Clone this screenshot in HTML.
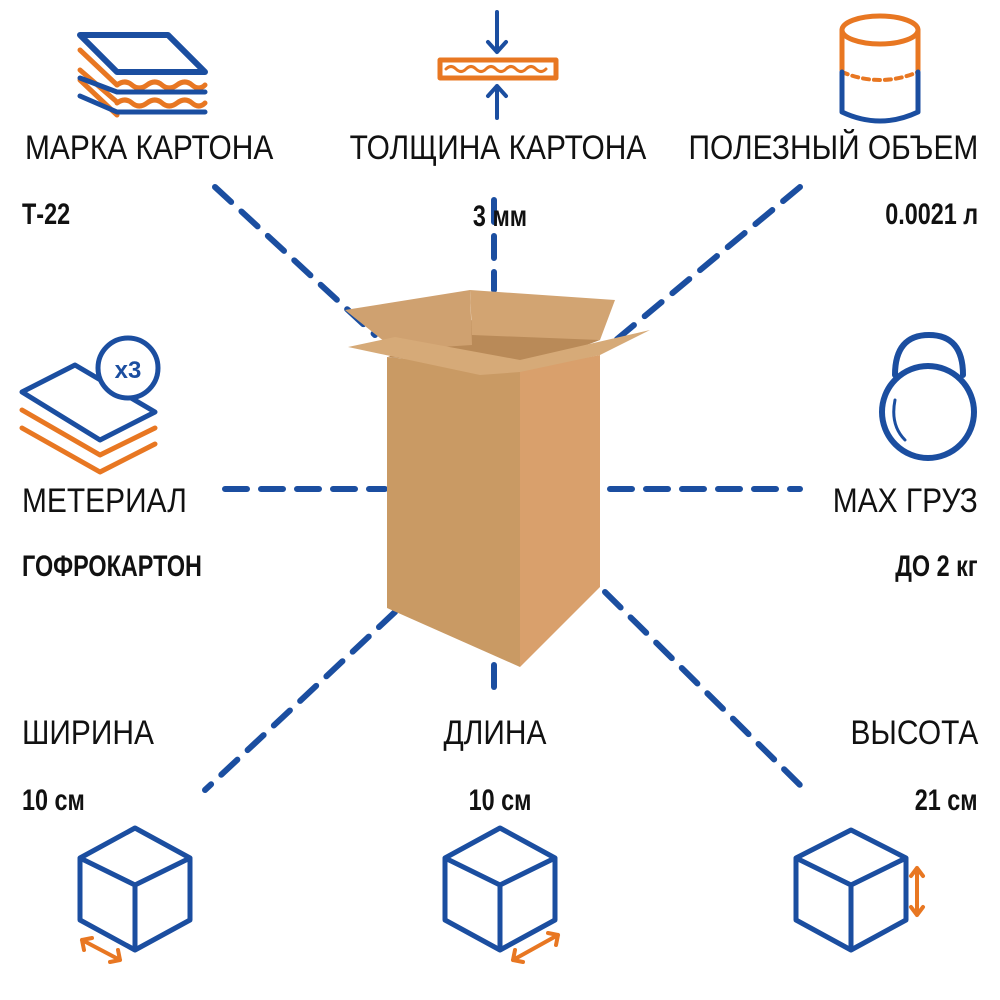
<!DOCTYPE html>
<html><head><meta charset="utf-8"><style>
body{margin:0;width:1000px;height:1000px;background:#fff;position:relative;overflow:hidden;font-family:"Liberation Sans",sans-serif}
.t{position:absolute;font-size:34px;color:#111;white-space:nowrap;transform:scaleX(0.88);transform-origin:left top}
.v{position:absolute;font-size:30px;font-weight:bold;color:#111;white-space:nowrap;transform:scaleX(0.78);transform-origin:left top}
.t.r,.v.r{transform-origin:right top}
.t.c,.v.c{transform-origin:center top}
</style></head><body>
<svg width="1000" height="1000" style="position:absolute;left:0;top:0">
<g stroke="#1b4ea0" stroke-width="6" stroke-dasharray="22 14" stroke-linecap="round" fill="none">
<line x1="215" y1="187" x2="375" y2="335"/>
<line x1="494" y1="200" x2="494" y2="290"/>
<line x1="800" y1="187" x2="610" y2="345"/>
<line x1="225" y1="489" x2="385" y2="489"/>
<line x1="610" y1="489" x2="800" y2="489"/>
<line x1="395" y1="612" x2="205" y2="790"/>
<line x1="494" y1="665" x2="494" y2="700"/>
<line x1="605" y1="592" x2="805" y2="790"/>
</g>
<polygon points="387,357 520,370 520,667 387,608" fill="#c99a64"/>
<polygon points="520,370 600,355 600,587 520,667" fill="#d9a06c"/>
<polygon points="388,357 470,320 600,340 520,370" fill="#b98a58"/>
<polygon points="345,310 470,290 472,345 395,350" fill="#cfa170"/>
<polygon points="470,290 615,300 600,340 472,335" fill="#d2a472"/>
<polygon points="348,347 395,337 520,360 520,372 480,375" fill="#d6aa78"/>
<polygon points="520,360 650,330 600,355 520,372" fill="#d6aa78"/>
<g fill="none" stroke-linecap="round" stroke-linejoin="round">
<polygon points="80,35 168,35 205,72 117,72" stroke="#1b4ea0" stroke-width="6"/>
<path d="M80,50 L117,85 M80,70 L117,102 M80,80 L117,115" stroke="#e87722" stroke-width="5"/>
<path d="M117,85 q8,-6 15,0 t15,0 t15,0 t15,0 t15,0 t13,0" stroke="#e87722" stroke-width="5"/>
<path d="M117,103 q8,-6 15,0 t15,0 t15,0 t15,0 t15,0 t13,0" stroke="#e87722" stroke-width="5"/>
<path d="M80,78 L117,92 L205,92 M80,96 L117,112 L205,112" stroke="#1b4ea0" stroke-width="5"/>
<rect x="440" y="60" width="116" height="18" stroke="#e87722" stroke-width="5"/>
<path d="M446,69 q5,-5 10,0 t10,0 t10,0 t10,0 t10,0 t10,0 t10,0 t10,0 t10,0 t10,0" stroke="#e87722" stroke-width="3"/>
<path d="M497,12 V52 M488,42 L497,52 L506,42 M497,118 V86 M488,96 L497,86 L506,96" stroke="#1b4ea0" stroke-width="4"/>
<ellipse cx="880" cy="30" rx="38" ry="14" stroke="#e87722" stroke-width="5"/>
<path d="M842,30 V70 M918,30 V70" stroke="#e87722" stroke-width="5"/>
<path d="M842,72 q38,16 76,0" stroke="#e87722" stroke-width="4" stroke-dasharray="6 5"/>
<path d="M842,72 V112 q38,18 76,0 V72" stroke="#1b4ea0" stroke-width="5"/>
<polygon points="22,392 75,365 155,412 100,440" stroke="#1b4ea0" stroke-width="5"/>
<path d="M22,410 L100,455 L155,428 M22,428 L100,472 L155,444" stroke="#e87722" stroke-width="5"/>
<circle cx="128" cy="368" r="30" fill="#fff" stroke="#1b4ea0" stroke-width="5"/>
<path d="M895,375 q0,-40 34,-40 q34,0 34,40" stroke="#1b4ea0" stroke-width="6"/>
<circle cx="928" cy="412" r="46" stroke="#1b4ea0" stroke-width="6" fill="#fff"/>
<path d="M895,400 q-5,25 10,40" stroke="#1b4ea0" stroke-width="3"/>
<g stroke="#1b4ea0" stroke-width="5">
<path d="M135,828 L80,858 L135,885 L190,858 Z M80,858 V920 L135,950 L190,920 V858 M135,885 V950"/>
<path d="M500,828 L445,858 L500,885 L555,858 Z M445,858 V920 L500,950 L555,920 V858 M500,885 V950"/>
<path d="M851,830 L796,858 L851,885 L906,858 Z M796,858 V920 L851,950 L906,920 V858 M851,885 V950"/>
</g>
<g stroke="#e87722" stroke-width="4">
<path d="M82,940 L120,960 M82,940 l2,10 M82,940 l10,-2 M120,960 l-10,2 M120,960 l-2,-10"/>
<path d="M513,960 L558,935 M513,960 l10,2 M513,960 l2,-10 M558,935 l-10,-2 M558,935 l-2,10"/>
<path d="M917,868 V915 M911,876 l6,-8 6,8 M911,907 l6,8 6,-8"/>
</g>
</g>
<text x="128" y="378" fill="#1b4ea0" font-size="24" font-weight="bold" text-anchor="middle" font-family="Liberation Sans">x3</text>
</svg>
<div class="t" style="left:25px;top:129px">МАРКА КАРТОНА</div>
<div class="t c" style="left:298px;top:129px;width:400px;text-align:center">ТОЛЩИНА КАРТОНА</div>
<div class="t r" style="right:22px;top:129px">ПОЛЕЗНЫЙ ОБЪЕМ</div>
<div class="v" style="left:22px;top:198px">Т-22</div>
<div class="v c" style="left:400px;width:200px;text-align:center;top:200px">3 мм</div>
<div class="v r" style="right:22px;top:198px">0.0021 л</div>
<div class="t" style="left:22px;top:482px">МЕТЕРИАЛ</div>
<div class="t r" style="right:22px;top:482px">MAX ГРУЗ</div>
<div class="v" style="left:22px;top:550px">ГОФРОКАРТОН</div>
<div class="v r" style="right:22px;top:550px">ДО 2 кг</div>
<div class="t" style="left:22px;top:714px">ШИРИНА</div>
<div class="t c" style="left:395px;width:200px;text-align:center;top:714px">ДЛИНА</div>
<div class="t r" style="right:22px;top:714px">ВЫСОТА</div>
<div class="v" style="left:22px;top:784px">10 см</div>
<div class="v c" style="left:400px;width:200px;text-align:center;top:784px">10 см</div>
<div class="v r" style="right:22px;top:784px">21 см</div>
</body></html>
